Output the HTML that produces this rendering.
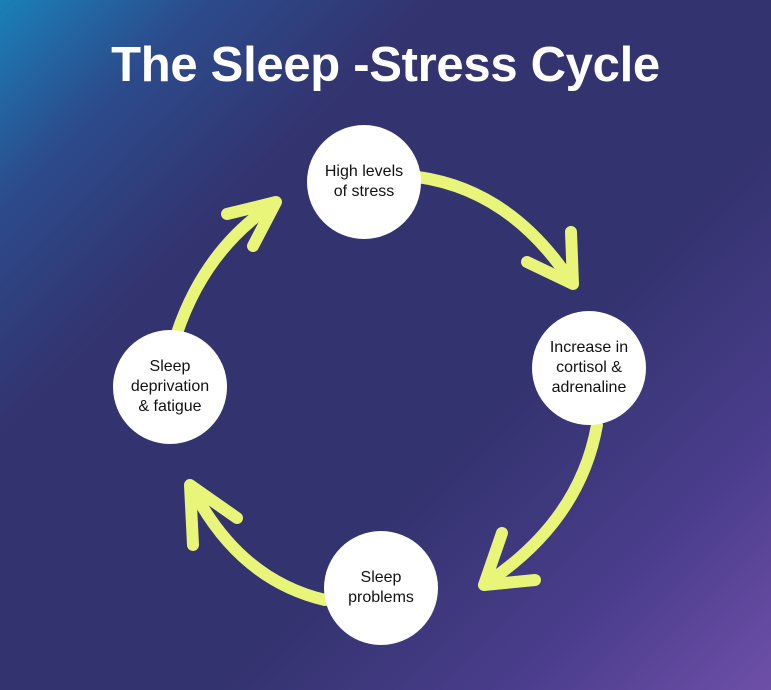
<!DOCTYPE html>
<html><head><style>
html,body{margin:0;padding:0}
body{width:771px;height:690px;overflow:hidden;background:linear-gradient(135deg,#1a80b8 0%,#2c4b8c 14%,#33336f 30%,#33336f 62%,#4a3d8c 82%,#6e4fa8 100%);font-family:"Liberation Sans",sans-serif}
.t{position:absolute;left:0;top:37px;width:771px;text-align:center;color:#fff;font-weight:bold;font-size:49px;letter-spacing:-0.3px}
.c{position:absolute;width:114px;height:114px;border-radius:50%;background:#fff;display:flex;align-items:center;justify-content:center;text-align:center;font-size:16px;line-height:20px;color:#111}
</style></head><body>
<svg width="771" height="690" style="position:absolute;left:0;top:0" fill="none" stroke="#e8f578" stroke-width="12" stroke-linecap="round" stroke-linejoin="round">
<path d="M418 177 Q510 190 570 280"/>
<path d="M527 262 L573 284 L571 232"/>
<path d="M177 333 Q205 250 272 205"/>
<path d="M227 214 L276 202 L253 246"/>
<path d="M597 425 Q580 520 488 582"/>
<path d="M502 533 L484 585 L535 580"/>
<path d="M325 600 Q240 580 193 490"/>
<path d="M193 545 L190 485 L237 518"/>
</svg>
<div class="t">The Sleep -Stress Cycle</div>
<div class="c" style="left:307px;top:125px">High levels<br>of stress</div>
<div class="c" style="left:532px;top:311px">Increase in<br>cortisol &amp;<br>adrenaline</div>
<div class="c" style="left:324px;top:531px">Sleep<br>problems</div>
<div class="c" style="left:113px;top:330px">Sleep<br>deprivation<br>&amp; fatigue</div>
</body></html>
